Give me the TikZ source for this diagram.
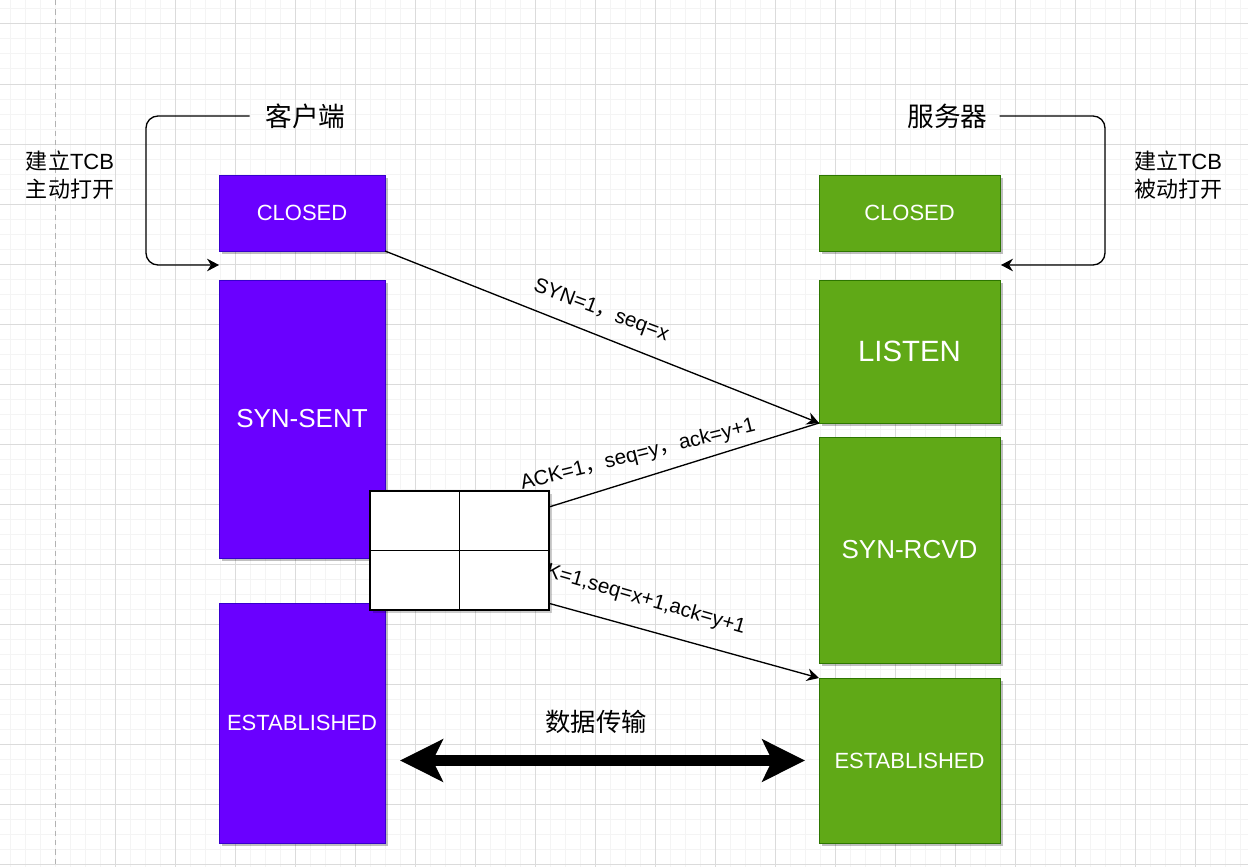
\documentclass[tikz,border=0pt]{standalone}
\usepackage{fontspec}
\setmainfont{Liberation Sans}
\newfontfamily\cjk{Noto Sans CJK SC}
\usetikzlibrary{arrows.meta,shadows}
\definecolor{cfill}{HTML}{6A00FF}
\definecolor{cline}{HTML}{3700CC}
\definecolor{sfill}{HTML}{60A917}
\definecolor{sline}{HTML}{2D7600}
\begin{document}
\begin{tikzpicture}[x=0.75pt,y=-0.75pt,
  minorgrid/.style={draw=gray!9,line width=0.75pt},
  majorgrid/.style={draw=gray!28,line width=0.75pt},
  state/.style={rectangle,inner sep=0pt,outer sep=0pt,text=white,line width=0.75pt,
    drop shadow={shadow xshift=2pt,shadow yshift=-2pt,opacity=0.25,fill=black}},
  cstate/.style={state,fill=cfill,draw=cline,minimum width=124.5pt},
  sstate/.style={state,fill=sfill,draw=sline,minimum width=135.75pt},
  fsmall/.style={font=\fontsize{16.5pt}{19pt}\selectfont},
  fmid/.style={font=\fontsize{19.5pt}{22pt}\selectfont},
  fbig/.style={font=\fontsize{22pt}{25pt}\selectfont},
  conn/.style={draw=black,line width=1pt,-{Stealth[length=9pt,width=9.5pt,inset=3pt]}},
  lbl/.style={inner sep=0pt,font=\fontsize{15.5pt}{18pt}\selectfont},
  title/.style={inner sep=0pt,font=\cjk\fontsize{20pt}{24pt}\selectfont},
  side/.style={inner sep=0pt,align=center,font=\fontsize{16.5pt}{21pt}\selectfont},
  tablebox/.style={rectangle,draw=black,fill=white,line width=1pt,inner sep=0pt,
    minimum width=134.25pt,minimum height=89.25pt,
    drop shadow={shadow xshift=2pt,shadow yshift=-2pt,opacity=0.2,fill=black}},
  bigarrow/.style={draw=black,line width=8.25pt,
    {Stealth[length=32pt,width=31.5pt,inset=7.5pt]}-{Stealth[length=32pt,width=31.5pt,inset=7.5pt]}}
]
\useasboundingbox (0,0) rectangle (1248,867);
\fill[white] (0,0) rectangle (1248,867);
% grid
\foreach \x in {10,25,...,1245} \draw[minorgrid] (\x,0) -- (\x,867);
\foreach \y in {9,24,...,866} \draw[minorgrid] (0,\y) -- (1248,\y);
\foreach \x in {115,175,...,1245} \draw[majorgrid] (\x,0) -- (\x,867);
\foreach \y in {24,84,...,866} \draw[majorgrid] (0,\y) -- (1248,\y);
\draw[gray!60,line width=0.75pt,dash pattern=on 4pt off 3pt] (55,0) -- (55,867);

% client states
\node[cstate,fsmall,minimum height=57pt] (cclosed) at (302,213) {CLOSED};
\node[cstate,fmid,minimum height=208.5pt] (csent) at (302,419) {SYN-SENT};
\node[cstate,fsmall,minimum height=180pt] (cest) at (302,723) {ESTABLISHED};
% server states
\node[sstate,fsmall,minimum height=57pt] (sclosed) at (909.5,213) {CLOSED};
\node[sstate,fbig,minimum height=107.25pt] (slisten) at (909.5,351.5) {LISTEN};
\node[sstate,fmid,minimum height=169.5pt] (srcvd) at (909.5,550) {SYN-RCVD};
\node[sstate,fsmall,minimum height=123.75pt] (sest) at (909.5,760.5) {ESTABLISHED};

% handshake connectors
\draw[conn] (cclosed.south east) -- (slisten.south west);
\draw[conn] (slisten.south west) -- (csent.south east);
\draw[conn] (csent.south east) -- (sest.north west);

% labels
\node[lbl,rotate=-20.5] (l1) at (601,311) {SYN=1{\cjk ，}seq=x};
\node[lbl,rotate=14] (l2) at (638,455) {ACK=1{\cjk ，}seq=y{\cjk ，}ack=y+1};
\node[lbl,rotate=-16] (l3) at (632,596) {ACK=1,seq=x+1,ack=y+1};

% table
\node[tablebox] (tb) at (459.5,550.5) {};
\draw[line width=1pt] (tb.north) -- (tb.south);
\draw[line width=1pt] (tb.west) -- (tb.east);

% titles and brackets
\node[title,outer sep=12pt] (ctitle) at (305.5,116) {客户端};
\node[title,outer sep=9pt] (stitle) at (947.5,116) {服务器};
\coordinate (la) at (219,265);
\coordinate (ra) at (1001,265);
\draw[conn,rounded corners=9pt] (ctitle.west) -| (146,265) -- (la);
\draw[conn,rounded corners=9pt] (stitle.east) -| (1105,265) -- (ra);
\node[side] (cside) at (70,175) {{\cjk 建立}TCB\\{\cjk 主动打开}};
\node[side] (sside) at (1178,175) {{\cjk 建立}TCB\\{\cjk 被动打开}};

% data transfer
\node[inner sep=0pt,font=\cjk\fontsize{19pt}{22pt}\selectfont] (data) at (596,722) {数据传输};
\draw[bigarrow,shorten <=11.25pt,shorten >=10.5pt] (sest.west -| cest.east) -- (sest.west);
\end{tikzpicture}
\end{document}
